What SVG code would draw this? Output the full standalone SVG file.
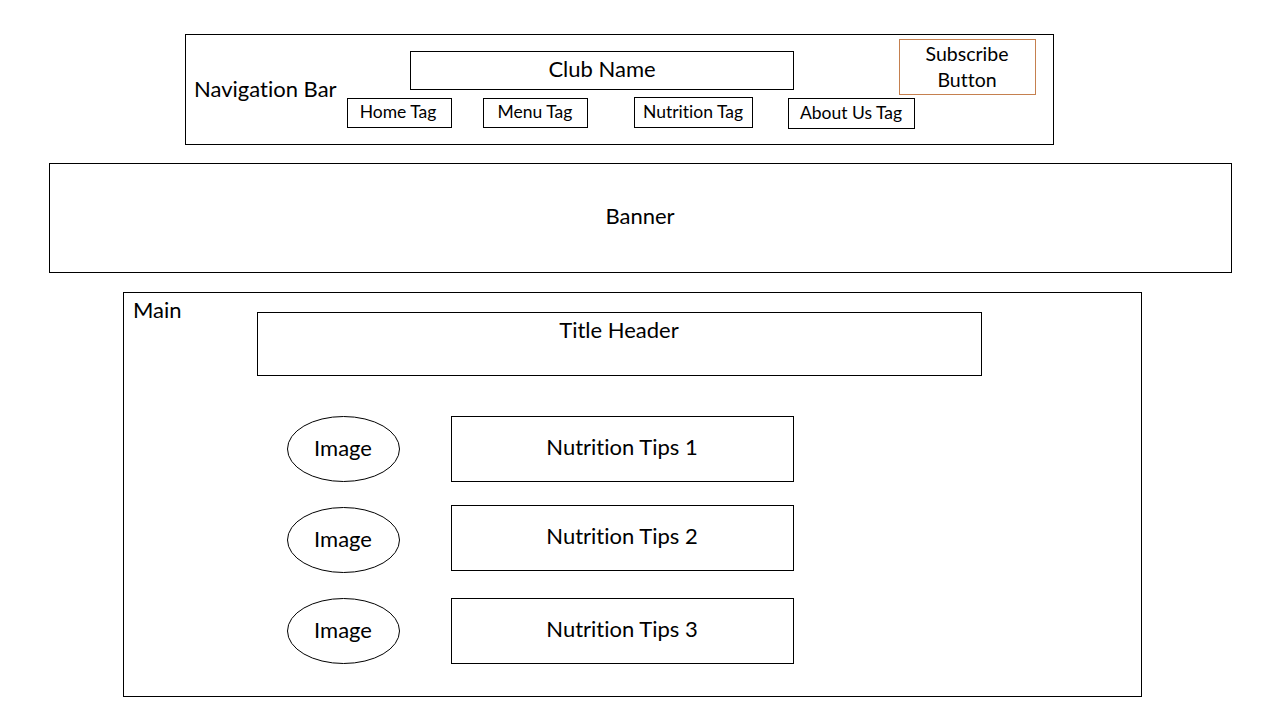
<svg xmlns="http://www.w3.org/2000/svg" width="1280" height="720" viewBox="0 0 1280 720">
  <style>
    .box { fill: #ffffff; stroke: #000000; stroke-width: 1; }
    .btn { fill: #ffffff; stroke: #C5804F; stroke-width: 1; }
    text { font-family: Lato, "Open Sans", "Liberation Sans", sans-serif; fill: #000000; font-variant-ligatures: none; }
    .lg { font-size: 22px; }
    .md { font-size: 19.5px; }
    .sm { font-size: 17.5px; }
    .c { text-anchor: middle; }
  </style>
  <rect x="0" y="0" width="1280" height="720" fill="#ffffff"/>

  <!-- Navigation bar -->
  <g id="nav-bar">
    <rect class="box" x="185.5" y="34.5" width="868" height="110"/>
    <text class="lg" x="194" y="97">Navigation Bar</text>
  </g>
  <g id="club-name">
    <rect class="box" x="410.5" y="51.5" width="383" height="38"/>
    <text class="lg c" x="602" y="77">Club Name</text>
  </g>
  <g id="subscribe-button">
    <rect class="btn" x="899.5" y="39.5" width="136" height="55"/>
    <text class="md c" x="967" y="61">Subscribe</text>
    <text class="md c" x="967" y="87">Button</text>
  </g>
  <g id="home-tag">
    <rect class="box" x="347.5" y="98.5" width="104" height="29"/>
    <text class="sm c" x="398" y="118">Home Tag</text>
  </g>
  <g id="menu-tag">
    <rect class="box" x="483.5" y="98.5" width="104" height="29"/>
    <text class="sm c" x="535" y="118">Menu Tag</text>
  </g>
  <g id="nutrition-tag">
    <rect class="box" x="634.5" y="97.5" width="118" height="30"/>
    <text class="sm c" x="693" y="118">Nutrition Tag</text>
  </g>
  <g id="about-tag">
    <rect class="box" x="788.5" y="98.5" width="126" height="30"/>
    <text class="sm c" x="851" y="119">About Us Tag</text>
  </g>

  <!-- Banner -->
  <g id="banner">
    <rect class="box" x="49.5" y="163.5" width="1182" height="109"/>
    <text class="lg c" x="640" y="224">Banner</text>
  </g>

  <!-- Main section -->
  <g id="main">
    <rect class="box" x="123.5" y="292.5" width="1018" height="404"/>
    <text class="lg" x="133" y="318">Main</text>
  </g>
  <g id="title-header">
    <rect class="box" x="257.5" y="312.5" width="724" height="63"/>
    <text class="lg c" x="619" y="338">Title Header</text>
  </g>

  <g id="image-1">
    <ellipse class="box" cx="343.5" cy="449" rx="56" ry="32.5"/>
    <text class="lg c" x="343" y="456">Image</text>
  </g>
  <g id="tips-1">
    <rect class="box" x="451.5" y="416.5" width="342" height="65"/>
    <text class="lg c" x="622" y="455">Nutrition Tips 1</text>
  </g>

  <g id="image-2">
    <ellipse class="box" cx="343.5" cy="540" rx="56" ry="32.5"/>
    <text class="lg c" x="343" y="547">Image</text>
  </g>
  <g id="tips-2">
    <rect class="box" x="451.5" y="505.5" width="342" height="65"/>
    <text class="lg c" x="622" y="544">Nutrition Tips 2</text>
  </g>

  <g id="image-3">
    <ellipse class="box" cx="343.5" cy="631" rx="56" ry="32.5"/>
    <text class="lg c" x="343" y="638">Image</text>
  </g>
  <g id="tips-3">
    <rect class="box" x="451.5" y="598.5" width="342" height="65"/>
    <text class="lg c" x="622" y="637">Nutrition Tips 3</text>
  </g>

  <g id="connectors"></g>
</svg>
